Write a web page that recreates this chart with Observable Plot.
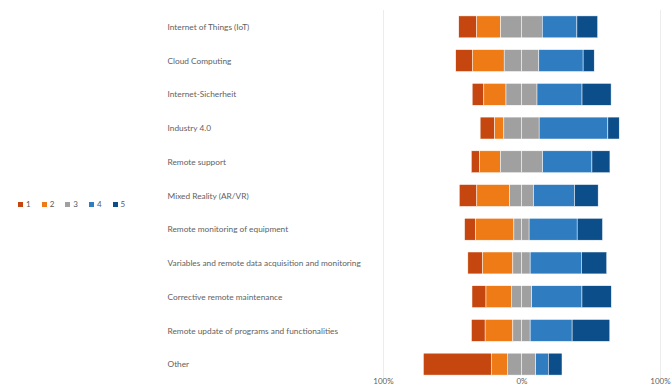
<!DOCTYPE html>
<html>
<head>
<meta charset="utf-8">
<script src="https://cdn.jsdelivr.net/npm/d3@7"></script>
<script src="https://cdn.jsdelivr.net/npm/@observablehq/plot@0.6"></script>
<style>
  html, body { margin: 0; padding: 0; background: #fff; }
  #wrap { position: relative; width: 671px; height: 390px; font-family: Lato, "Liberation Sans", sans-serif; }
  #legend { position: absolute; left: 18px; top: 199px; display: flex; align-items: center; font-size: 8px; color: #595959; }
  #legend .item { display: inline-flex; align-items: center; margin-right: 11px; }
  #legend .sw { width: 5px; height: 5px; margin-right: 3px; display: inline-block; }
</style>
</head>
<body>
<div id="wrap"><div id="chart"></div><div id="legend"></div></div>
<script>
const categories = [
  "Internet of Things (IoT)",
  "Cloud Computing",
  "Internet-Sicherheit",
  "Industry 4.0",
  "Remote support",
  "Mixed Reality (AR/VR)",
  "Remote monitoring of equipment",
  "Variables and remote data acquisition and monitoring",
  "Corrective remote maintenance",
  "Remote update of programs and functionalities",
  "Other"
];
const responses = ["1", "2", "3", "4", "5"];
const colors = ["#C5470F", "#EE7B16", "#A0A0A0", "#2F7DC0", "#0C4E8A"];
// percentages per response level
const r1 = [13, 12, 8.4, 10.4, 6, 12.7, 7.9, 10.6, 10.1, 9.9, 49];
const r2 = [17.3, 23, 16, 6.7, 15, 23.6, 27.7, 21.9, 18.3, 20, 11.6];
const r3 = [30, 25, 22.4, 25.5, 30.5, 17.3, 11, 12.5, 14.7, 12.5, 20.5];
const r4 = [25, 32, 32.5, 49.6, 35.6, 29.6, 34.7, 37, 36.3, 30.3, 9.1];
const r5 = [15, 8, 21, 8.2, 13, 17.1, 18.3, 18.3, 21.2, 27.2, 9.9];
const axisTicks = [-100, 0, 100];

const segs = [];
categories.forEach((cat, i) => {
  const parts = [["1", r1[i]], ["2", r2[i]], ["3", r3[i] / 2], ["3", r3[i] / 2], ["4", r4[i]], ["5", r5[i]]];
  let start = -(r1[i] + r2[i] + r3[i] / 2);
  for (const [key, v] of parts) {
    segs.push({cat, key, x1: start, x2: start + v});
    start += v;
  }
});

const chart = Plot.plot({
  width: 671,
  height: 390,
  marginLeft: 383,
  marginRight: 11,
  marginTop: 10,
  marginBottom: 9,
  style: {fontFamily: "Lato, 'Liberation Sans', sans-serif", background: "#fff"},
  x: {domain: [-100, 100], axis: null},
  y: {domain: categories, paddingInner: 0.35, paddingOuter: 0.175, round: false, axis: null},
  color: {domain: responses, range: colors},
  marks: [
    Plot.ruleX([-100, 100], {stroke: "#ececec", strokeWidth: 1}),
    Plot.barX(segs, {x1: "x1", x2: "x2", y: "cat", fill: "key", stroke: "#fff", strokeWidth: 0.5}),
    Plot.text(categories, {y: d => d, frameAnchor: "left", textAnchor: "start", dx: -216, fill: "#5f5f5f", fontSize: 8.3}),
    Plot.text(axisTicks, {x: d => d, frameAnchor: "bottom", dy: 2, text: d => Math.abs(d) + "%", fill: "#5f5f5f", fontSize: 8})
  ]
});
document.getElementById("chart").appendChild(chart);

const lg = document.getElementById("legend");
responses.forEach((r, i) => {
  const item = document.createElement("span");
  item.className = "item";
  const sw = document.createElement("span");
  sw.className = "sw";
  sw.style.background = colors[i];
  item.appendChild(sw);
  item.appendChild(document.createTextNode(r));
  lg.appendChild(item);
});
</script>
</body>
</html>
